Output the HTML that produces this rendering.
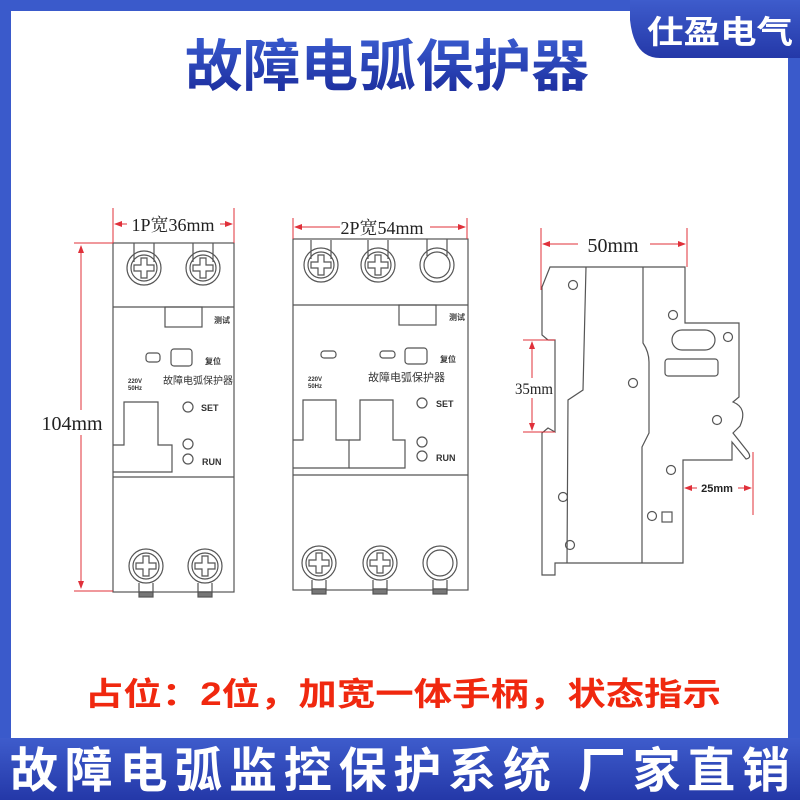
<!DOCTYPE html>
<html><head><meta charset="utf-8"><style>
html,body{margin:0;padding:0;width:800px;height:800px;overflow:hidden;background:#fff}
</style></head><body>
<svg width="800" height="800" viewBox="0 0 800 800" xmlns="http://www.w3.org/2000/svg" font-family="Liberation Sans, Noto Sans CJK SC, sans-serif">
<defs>
<linearGradient id="tg" x1="0" y1="0" x2="0" y2="1"><stop offset="0" stop-color="#3a5cd0"/><stop offset="1" stop-color="#1a2a9a"/></linearGradient>
<linearGradient id="bg" x1="0" y1="0" x2="0" y2="1"><stop offset="0" stop-color="#3e5ccc"/><stop offset="1" stop-color="#2438a8"/></linearGradient>
<marker id="ar" markerWidth="8" markerHeight="8" refX="7" refY="4" orient="auto" markerUnits="userSpaceOnUse"><path d="M0,1 L8,4 L0,7Z" fill="#e0303a"/></marker>
</defs>
<rect x="0" y="0" width="800" height="800" fill="#3a5acb"/>
<rect x="11" y="11" width="777" height="730" fill="#fff"/>
<rect x="0" y="738" width="800" height="62" fill="url(#bg)"/>
<path d="M630,0 H800 V58 H660 Q634,58 630,20 Z" fill="url(#bg)"/>
<text x="720" y="43" font-size="32" font-weight="bold" fill="#fff" text-anchor="middle" textLength="146" lengthAdjust="spacingAndGlyphs">仕盈电气</text>
<text x="387" y="86" font-size="56" font-weight="bold" fill="url(#tg)" text-anchor="middle" textLength="404" lengthAdjust="spacingAndGlyphs">故障电弧保护器</text>
<text x="403" y="705" font-size="32" font-weight="bold" fill="#f0280f" text-anchor="middle" textLength="636" lengthAdjust="spacingAndGlyphs">占位：2位，加宽一体手柄，状态指示</text>
<text x="400" y="787" font-size="48" font-weight="bold" fill="#fff" text-anchor="middle" textLength="780">故障电弧监控保护系统 厂家直销</text>

<g stroke="#555" stroke-width="1.2" fill="none">
<rect x="113" y="243" width="121" height="349"/>
<line x1="113" y1="307" x2="234" y2="307"/>
<line x1="113" y1="477" x2="234" y2="477"/>
<g id="s1">
<path d="M134,243 V262 M154,243 V262"/>
<circle cx="144" cy="268" r="17"/><circle cx="144" cy="268" r="13"/>
<path d="M141,258 h6 v7 h7 v6 h-7 v7 h-6 v-7 h-7 v-6 h7 z"/>
</g>
<use href="#s1" x="59"/>
<g id="s2">
<circle cx="146" cy="566" r="17"/><circle cx="146" cy="566" r="13"/>
<path d="M143,556 h6 v7 h7 v6 h-7 v7 h-6 v-7 h-7 v-6 h7 z"/>
<path d="M139,583 V592 h14 V583"/><rect x="139" y="592" width="14" height="5" fill="#777"/>
</g>
<use href="#s2" x="59"/>
<rect x="165" y="307" width="37" height="20"/>
<rect x="146" y="353" width="14" height="9" rx="3"/>
<rect x="171" y="349" width="21" height="17" rx="3"/>
<path d="M113,445 H124 V402 H158 V445 H172 V472 H113"/>
<circle cx="188" cy="407" r="5"/><circle cx="188" cy="444" r="5"/><circle cx="188" cy="459" r="5"/>
<rect x="293" y="239" width="175" height="351"/>
<line x1="293" y1="305" x2="468" y2="305"/>
<line x1="293" y1="475" x2="468" y2="475"/>
<use href="#s1" x="177" y="-3"/>
<use href="#s1" x="234" y="-3"/>
<g><path d="M427,239 V256 M447,239 V256"/><circle cx="437" cy="265" r="17"/><circle cx="437" cy="265" r="13"/></g>
<use href="#s2" x="173" y="-3"/>
<use href="#s2" x="234" y="-3"/>
<g><circle cx="440" cy="563" r="17"/><circle cx="440" cy="563" r="13"/><path d="M433,580 V589 h14 V580"/><rect x="433" y="589" width="14" height="5" fill="#777"/></g>
<rect x="399" y="305" width="37" height="20"/>
<rect x="321" y="351" width="15" height="7" rx="3"/>
<rect x="380" y="351" width="15" height="7" rx="3"/>
<rect x="405" y="348" width="22" height="16" rx="3"/>
<path d="M293,440 H303 V400 H336 V440 H349 V468 H293"/>
<path d="M349,440 H360 V400 H393 V440 H405 V468 H349"/>
<circle cx="422" cy="403" r="5"/><circle cx="422" cy="442" r="5"/><circle cx="422" cy="456" r="5"/>
<path d="M550,267 H685 V323 H739 V397 L733,402 Q748,408 740,426 L733,433 L748,452 Q752,458 746,459 L732,442 V460 H683 V563 H555 V575 H542 V433 L548,428 L555,432 V340 L548,340 L542,335 V287 Z"/>
<path d="M586,267 L583,390 L568,400 L567,563"/>
<path d="M643,267 V343 Q649,352 649,362 V433 L642,447 V563"/>
<circle cx="573" cy="285" r="4.5"/><circle cx="673" cy="315" r="4.5"/><circle cx="728" cy="337" r="4.5"/>
<circle cx="633" cy="383" r="4.5"/><circle cx="717" cy="420" r="4.5"/><circle cx="671" cy="470" r="4.5"/>
<circle cx="563" cy="497" r="4.5"/><circle cx="570" cy="545" r="4.5"/><circle cx="652" cy="516" r="4.5"/>
<rect x="662" y="512" width="10" height="10"/>
<rect x="672" y="330" width="43" height="20" rx="10"/>
<rect x="665" y="359" width="53" height="17" rx="3"/>
</g>
<g font-weight="bold" fill="#333">
<text x="214" y="323" font-size="8">测试</text>
<text x="205" y="364" font-size="8">复位</text>
<text x="128" y="383" font-size="6">220V</text><text x="128" y="390" font-size="6">50Hz</text>
<text x="163" y="384" font-size="10" font-weight="normal">故障电弧保护器</text>
<text x="201" y="411" font-size="9">SET</text>
<text x="202" y="465" font-size="9">RUN</text>
<text x="449" y="320" font-size="8">测试</text>
<text x="440" y="362" font-size="8">复位</text>
<text x="308" y="381" font-size="6">220V</text><text x="308" y="388" font-size="6">50Hz</text>
<text x="368" y="381" font-size="11" font-weight="normal">故障电弧保护器</text>
<text x="436" y="407" font-size="9">SET</text>
<text x="436" y="461" font-size="9">RUN</text>
</g>
<g stroke="#e0303a" stroke-width="1" fill="none">
<path d="M113,208 V243 M234,208 V243"/>
<line x1="127" y1="224" x2="115" y2="224" marker-end="url(#ar)"/><line x1="220" y1="224" x2="232" y2="224" marker-end="url(#ar)"/>
<path d="M74,243 H113 M74,591 H113"/>
<line x1="81" y1="410" x2="81" y2="246" marker-end="url(#ar)"/><line x1="81" y1="435" x2="81" y2="588" marker-end="url(#ar)"/>
<path d="M293,218 V239 M467,218 V239"/>
<line x1="340" y1="227" x2="295" y2="227" marker-end="url(#ar)"/><line x1="430" y1="227" x2="465" y2="227" marker-end="url(#ar)"/>
<path d="M541,228 V290 M687,228 V267"/>
<line x1="578" y1="244" x2="543" y2="244" marker-end="url(#ar)"/><line x1="650" y1="244" x2="685" y2="244" marker-end="url(#ar)"/>
<path d="M523,340 H555 M523,432 H555"/>
<line x1="532" y1="378" x2="532" y2="342" marker-end="url(#ar)"/><line x1="532" y1="398" x2="532" y2="430" marker-end="url(#ar)"/>
<path d="M753,452 V515"/>
<line x1="697" y1="488" x2="685" y2="488" marker-end="url(#ar)"/><line x1="738" y1="488" x2="751" y2="488" marker-end="url(#ar)"/>
</g>
<g font-family="Liberation Serif, Noto Serif CJK SC, serif" fill="#222">
<text x="173" y="231" font-size="18" text-anchor="middle">1P宽36mm</text>
<text x="382" y="234" font-size="18" text-anchor="middle">2P宽54mm</text>
<text x="72" y="430" font-size="20" text-anchor="middle">104mm</text>
<text x="613" y="252" font-size="20" text-anchor="middle">50mm</text>
<text x="534" y="394" font-size="16" text-anchor="middle" textLength="38" lengthAdjust="spacingAndGlyphs">35mm</text>
</g>
<text x="717" y="492" font-size="11" font-weight="bold" fill="#222" text-anchor="middle">25mm</text>
</svg>
</body></html>
